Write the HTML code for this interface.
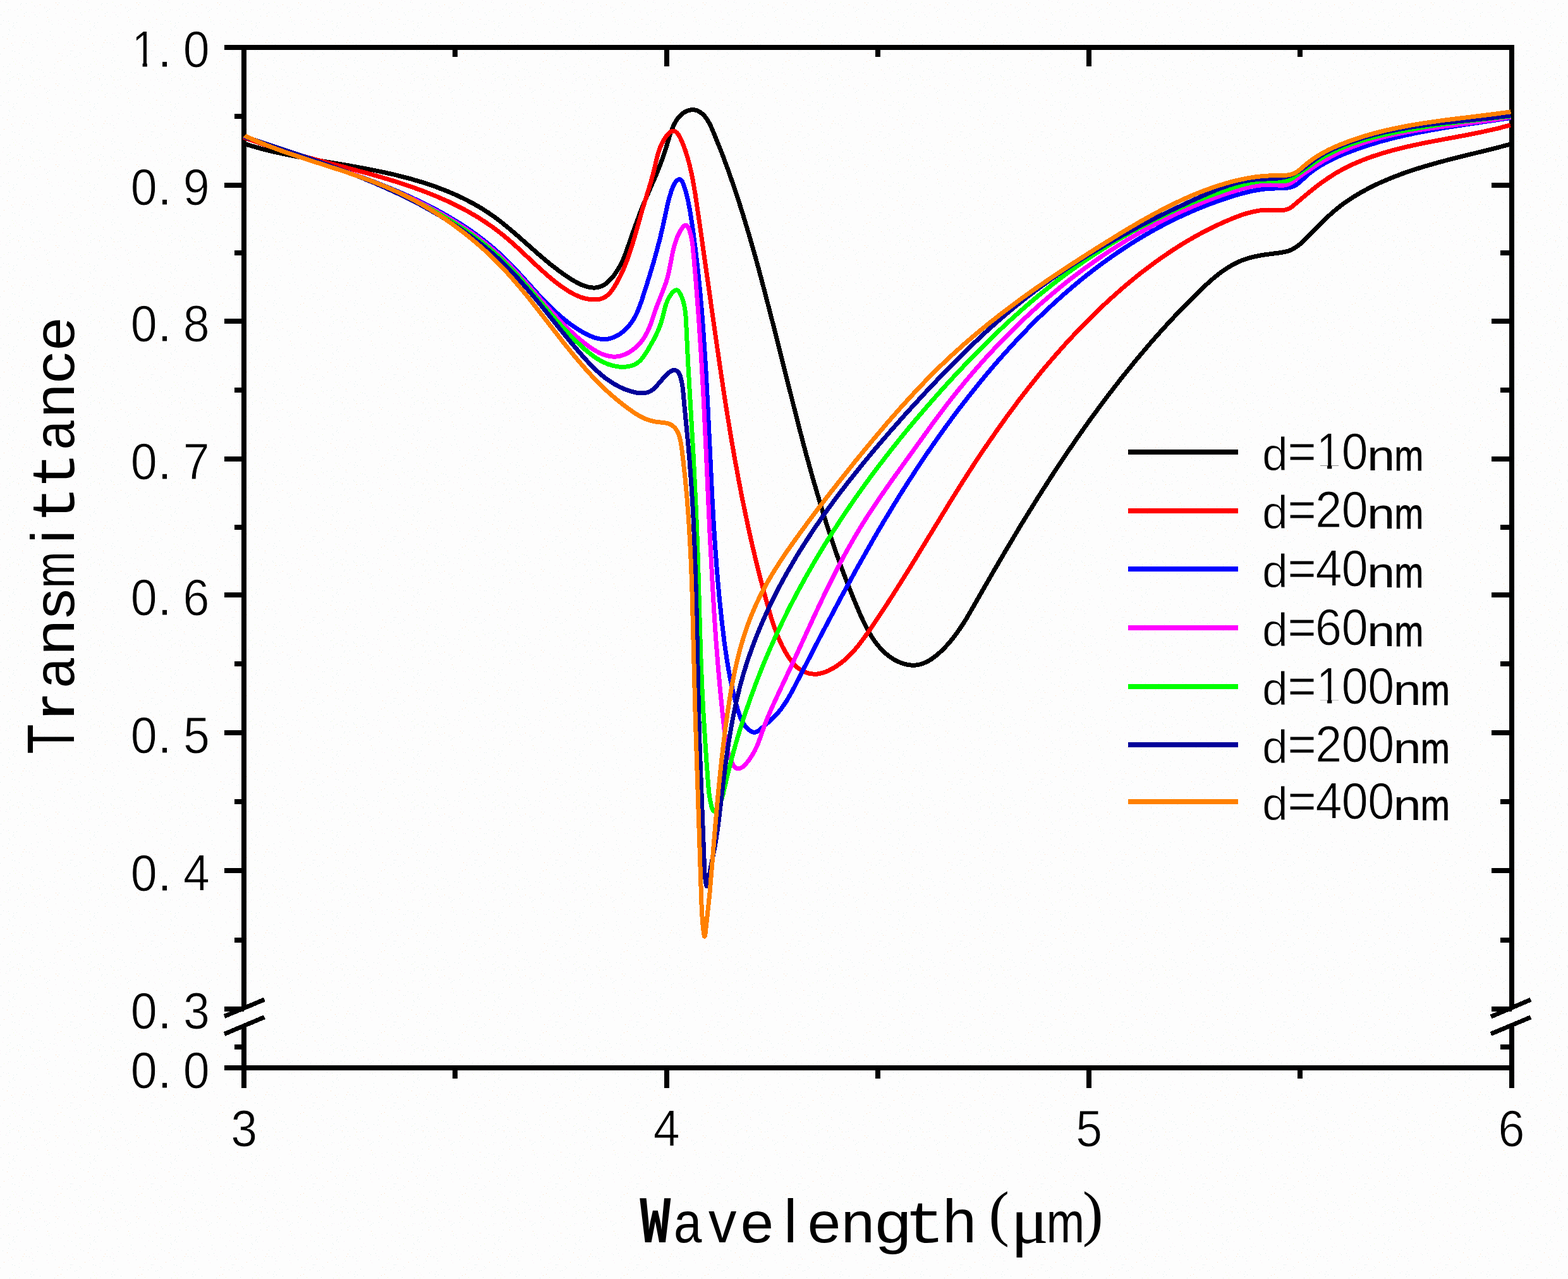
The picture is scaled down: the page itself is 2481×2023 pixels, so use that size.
<!DOCTYPE html>
<html lang="en"><head><meta charset="utf-8"><title>Transmittance vs Wavelength</title>
<style>
html,body{margin:0;padding:0;background:#fdfdfd;}
body{width:2481px;height:2023px;overflow:hidden;}
svg{display:block;}
.ax{stroke:#000;stroke-width:8;fill:none;stroke-linecap:butt;}
.cv{fill:none;stroke-width:7;stroke-linejoin:round;stroke-linecap:butt;}
.num{font-family:"Liberation Sans",sans-serif;font-size:80px;fill:#000;}
.mono{font-family:"Liberation Mono",monospace;}
.ttl{font-family:"Liberation Sans",sans-serif;font-size:91px;fill:#000;}
</style></head><body>
<svg xmlns="http://www.w3.org/2000/svg" width="2481" height="2023" viewBox="0 0 2481 2023">
<rect x="0" y="0" width="2481" height="2023" fill="#fdfdfd"/>
<defs><pattern id="dz" width="128" height="128" patternUnits="userSpaceOnUse" shape-rendering="crispEdges"><path fill="#deecec" d="M82 38h1v1h-1zM54 9h1v1h-1zM107 17h1v1h-1zM15 101h1v1h-1zM34 74h1v1h-1zM48 95h1v1h-1zM119 116h1v1h-1zM73 18h1v1h-1zM38 125h1v1h-1zM19 80h1v1h-1zM79 114h1v1h-1zM98 88h1v1h-1zM118 90h1v1h-1zM29 126h1v1h-1zM127 20h1v1h-1zM38 21h1v1h-1zM59 59h1v1h-1zM46 67h1v1h-1zM15 48h1v1h-1zM53 112h1v1h-1zM87 13h1v1h-1zM21 36h1v1h-1zM41 5h1v1h-1zM71 120h1v1h-1zM20 56h1v1h-1zM120 50h1v1h-1zM111 85h1v1h-1zM101 118h1v1h-1zM21 40h1v1h-1zM32 7h1v1h-1zM121 89h1v1h-1zM33 5h1v1h-1zM26 35h1v1h-1zM49 54h1v1h-1zM1 38h1v1h-1zM27 14h1v1h-1zM16 113h1v1h-1zM51 70h1v1h-1zM35 106h1v1h-1zM113 80h1v1h-1zM61 109h1v1h-1zM39 93h1v1h-1zM35 119h1v1h-1zM41 57h1v1h-1zM110 103h1v1h-1zM50 91h1v1h-1zM93 4h1v1h-1zM75 16h1v1h-1zM58 26h1v1h-1zM108 66h1v1h-1zM126 83h1v1h-1zM14 46h1v1h-1zM31 116h1v1h-1zM41 67h1v1h-1zM52 74h1v1h-1zM9 3h1v1h-1zM48 121h1v1h-1zM58 87h1v1h-1zM13 33h1v1h-1zM65 110h1v1h-1zM11 117h1v1h-1zM68 114h1v1h-1zM82 62h1v1h-1zM79 55h1v1h-1zM0 85h1v1h-1zM1 23h1v1h-1zM102 10h1v1h-1zM126 38h1v1h-1zM4 58h1v1h-1zM62 125h1v1h-1zM60 52h1v1h-1zM77 34h1v1h-1zM15 124h1v1h-1zM21 121h1v1h-1zM115 68h1v1h-1zM124 100h1v1h-1zM106 88h1v1h-1zM30 84h1v1h-1zM86 101h1v1h-1zM74 64h1v1h-1zM70 12h1v1h-1zM111 80h1v1h-1zM12 105h1v1h-1zM87 72h1v1h-1zM100 30h1v1h-1zM41 19h1v1h-1zM127 56h1v1h-1zM85 115h1v1h-1zM23 44h1v1h-1zM23 81h1v1h-1zM5 105h1v1h-1zM53 96h1v1h-1zM15 127h1v1h-1zM55 23h1v1h-1zM63 98h1v1h-1zM5 32h1v1h-1zM121 125h1v1h-1zM57 39h1v1h-1zM27 117h1v1h-1zM28 25h1v1h-1zM49 99h1v1h-1zM78 14h1v1h-1zM127 107h1v1h-1zM58 126h1v1h-1zM86 107h1v1h-1zM101 50h1v1h-1zM79 49h1v1h-1zM13 54h1v1h-1zM13 15h1v1h-1zM20 42h1v1h-1zM47 119h1v1h-1zM113 43h1v1h-1zM20 71h1v1h-1z"/><path fill="#fbebf5" d="M12 18h1v1h-1zM24 93h1v1h-1zM108 15h1v1h-1zM31 57h1v1h-1zM56 11h1v1h-1zM30 78h1v1h-1zM46 26h1v1h-1zM16 15h1v1h-1zM127 109h1v1h-1zM63 46h1v1h-1zM62 20h1v1h-1zM126 87h1v1h-1zM107 42h1v1h-1zM89 127h1v1h-1zM116 17h1v1h-1zM69 121h1v1h-1zM73 33h1v1h-1zM110 71h1v1h-1zM37 107h1v1h-1zM81 32h1v1h-1zM26 123h1v1h-1zM96 38h1v1h-1zM88 93h1v1h-1zM119 122h1v1h-1zM87 67h1v1h-1zM92 37h1v1h-1zM23 66h1v1h-1zM42 91h1v1h-1zM84 57h1v1h-1zM49 61h1v1h-1zM58 51h1v1h-1zM88 114h1v1h-1zM123 0h1v1h-1zM88 21h1v1h-1zM30 99h1v1h-1zM119 37h1v1h-1zM54 74h1v1h-1zM83 66h1v1h-1zM90 117h1v1h-1zM107 33h1v1h-1zM4 112h1v1h-1zM121 30h1v1h-1zM83 123h1v1h-1zM70 10h1v1h-1zM115 7h1v1h-1zM122 63h1v1h-1zM66 51h1v1h-1zM117 112h1v1h-1zM98 84h1v1h-1zM46 69h1v1h-1zM106 68h1v1h-1zM51 79h1v1h-1zM114 27h1v1h-1zM110 126h1v1h-1zM100 78h1v1h-1zM72 62h1v1h-1zM121 71h1v1h-1zM51 63h1v1h-1zM76 77h1v1h-1zM37 11h1v1h-1zM10 34h1v1h-1zM26 96h1v1h-1zM12 4h1v1h-1zM23 16h1v1h-1zM117 126h1v1h-1zM73 11h1v1h-1zM50 19h1v1h-1zM25 55h1v1h-1zM74 73h1v1h-1zM117 19h1v1h-1zM53 19h1v1h-1zM93 59h1v1h-1zM0 125h1v1h-1zM103 77h1v1h-1zM13 73h1v1h-1zM102 52h1v1h-1zM32 43h1v1h-1zM66 103h1v1h-1zM77 123h1v1h-1zM92 32h1v1h-1zM114 63h1v1h-1zM10 0h1v1h-1zM59 9h1v1h-1zM0 2h1v1h-1zM62 121h1v1h-1zM56 67h1v1h-1zM115 80h1v1h-1z"/><path fill="#f0fdd6" d="M101 100h1v1h-1zM102 71h1v1h-1zM13 116h1v1h-1zM6 18h1v1h-1zM51 122h1v1h-1zM33 15h1v1h-1zM77 31h1v1h-1zM24 101h1v1h-1zM21 97h1v1h-1zM109 35h1v1h-1zM19 122h1v1h-1zM33 71h1v1h-1zM50 3h1v1h-1zM19 92h1v1h-1zM95 109h1v1h-1zM124 12h1v1h-1zM58 108h1v1h-1zM126 47h1v1h-1zM124 106h1v1h-1zM14 37h1v1h-1z"/><path fill="#fddcc0" d="M91 97h1v1h-1zM38 25h1v1h-1zM29 124h1v1h-1zM6 76h1v1h-1zM91 7h1v1h-1zM18 68h1v1h-1zM11 61h1v1h-1zM88 4h1v1h-1zM35 103h1v1h-1zM93 84h1v1h-1zM119 30h1v1h-1zM36 67h1v1h-1zM38 63h1v1h-1zM114 110h1v1h-1zM117 71h1v1h-1zM63 7h1v1h-1zM52 126h1v1h-1zM75 27h1v1h-1zM96 95h1v1h-1z"/></pattern></defs>
<rect x="0" y="0" width="2481" height="2023" fill="url(#dz)"/>
<g class="ax" shape-rendering="crispEdges">
<path d="M354.5 74.6H2395.6"/>
<path d="M354.5 1688.5H2387.6"/>
<path d="M386.0 70.6V1593.0M386.0 1621.5V1720.5"/>
<path d="M2391.6 70.6V1593.0M2391.6 1621.5V1720.5"/>
<path d="M354.5 292.7H386.0M2360.3 292.7H2391.6M354.5 508.0H386.0M2360.3 508.0H2391.6M354.5 726.1H386.0M2360.3 726.1H2391.6M354.5 941.4H386.0M2360.3 941.4H2391.6M354.5 1159.3H386.0M2360.3 1159.3H2391.6M354.5 1377.4H386.0M2360.3 1377.4H2391.6M354.5 1595.7H386.0M2360.3 1595.7H2391.6M371 183.6H386.0M2374 183.6H2391.6M371 400.4H386.0M2374 400.4H2391.6M371 617.0H386.0M2374 617.0H2391.6M371 833.8H386.0M2374 833.8H2391.6M371 1050.3H386.0M2374 1050.3H2391.6M371 1268.3H386.0M2374 1268.3H2391.6M371 1486.6H386.0M2374 1486.6H2391.6M371 1655.5H386.0M2374 1655.5H2391.6M1054.5 74.6V105M1054.5 1688.5V1720.5M1723.1 74.6V105M1723.1 1688.5V1720.5M720.3 74.6V89.5M720.3 1688.5V1705.7M1388.8 74.6V89.5M1388.8 1688.5V1705.7M2057.3 74.6V89.5M2057.3 1688.5V1705.7"/>
</g>
<g stroke="#000" stroke-width="7" fill="none" shape-rendering="crispEdges">
<path d="M355 1607.5L418.4 1581M355 1635.5L418.4 1608.8M2359 1608.1L2422 1581.2M2359 1635.3L2422 1609"/>
</g>
<g class="cv" shape-rendering="crispEdges">
<path stroke="#000000" d="M387 227.1L387.4 227.6L394.6 229.8L414.7 235.5L433.6 240.2L452.6 244.3L468.9 247.6L488.1 251.1L551.7 261.9L576.7 266.4L601.5 271.3L623.4 276.1L646.6 282L668.2 288.3L688.3 295L708.1 302.6L717.8 306.7L727.4 311.1L736.9 315.7L746.3 320.6L755.4 325.7L764.4 331.1L773.1 336.7L780.4 341.8L793.4 351.5L807.2 362.8L820.7 374.4L851 401.2L868.3 415.9L876.7 422.5L885.3 429L892.8 434.4L900.6 439.6L907.2 443.7L912.6 446.8L918 449.5L923.4 451.8L928.8 453.5L932.8 454.4L938.2 455L942.1 455L946.1 454.4L948.6 453.8L951.2 452.9L953.7 451.8L958.6 448.7L963.3 444.7L968.9 438.7L972 434.8L974.9 430.7L980 422.4L984.3 414.1L987.4 407.2L990.6 398.9L1004.4 359.2L1014 333.4L1021.3 315.5L1038 277L1045.1 259.3L1051.8 240.6L1059.3 215.9L1061.9 208.2L1065.4 199.4L1068.9 192.6L1071.3 188.9L1073 186.6L1075.9 183.3L1078 181.3L1081.4 178.7L1083.7 177.2L1086.2 176L1088.8 174.9L1091.4 174.2L1094 173.8L1096.6 173.6L1099.3 173.9L1101.8 174.5L1104.4 175.4L1106.8 176.8L1109.2 178.4L1111.5 180.3L1114.7 183.6L1117.6 187.3L1120.2 191.2L1122.6 195.3L1124.6 199.5L1130.8 213.9L1142.3 242.4L1153.3 272.3L1164.1 303.5L1174.6 336.1L1182.3 361.6L1190.2 388.8L1198.7 419L1207.2 450.9L1223.1 512.1L1263.1 671.1L1274.8 715.7L1285.5 754.4L1298.4 798.6L1311.3 839.8L1318 859.7L1324.9 879.6L1331.5 898L1338.5 916.5L1346.3 936.4L1353.9 954.9L1361.2 972L1367 984.6L1371.8 994.2L1377 1003.4L1382.6 1012.2L1387.8 1019.3L1394.4 1027L1400.6 1033L1407.3 1038.4L1414.6 1043.2L1418.4 1045.3L1422.4 1047.1L1429.2 1049.6L1433.4 1050.8L1437.6 1051.6L1441.9 1052.1L1444.7 1052.2L1449 1052L1451.8 1051.6L1456 1050.8L1460.2 1049.5L1467 1046.5L1471 1044.3L1474.9 1041.8L1478.7 1039L1483.7 1035L1492.1 1027.3L1500.9 1017.9L1508.8 1008.2L1513.5 1002L1518.7 994.5L1523.7 987L1529.3 978.1L1536.8 965.2L1569.3 908.5L1591.9 869.8L1616.4 828.8L1640.8 789.4L1662.5 755.3L1683.9 722.8L1705.1 691.8L1725.8 662.5L1749 631.1L1772.8 600.2L1796.3 571L1820.6 542.3L1833.6 527.6L1845.7 514.2L1858 501L1870.5 487.9L1884.3 473.8L1897.2 461.1L1907 451.7L1916 443.6L1922.8 437.8L1929.8 432.3L1935.8 427.9L1942 423.8L1948.2 420L1954.7 416.6L1961.3 413.5L1966.7 411.2L1972.3 409.3L1978 407.6L1989.7 404.9L2001.7 402.8L2025.8 399.7L2033.1 398.4L2037.3 397.3L2041.4 395.9L2044 394.7L2047.8 392.7L2053.8 388.7L2060.7 383.1L2067.2 376.7L2087.3 355.8L2097 346.3L2109.2 335.3L2120.8 325.9L2127.9 320.6L2135.3 315.6L2142.7 310.8L2150.4 306.1L2166 297.5L2174 293.5L2183.5 289.1L2200.1 281.9L2218.4 274.9L2237 268.5L2257.4 262.2L2276.4 256.8L2297 251.4L2365 234.6L2390.2 228.1"/>
<path stroke="#ff0000" d="M387 217.5L387.4 218L391.5 219.5L413.7 227.3L432 233.3L452 239.3L488 249.4L580 273.7L604.6 280.7L626.2 287.3L650.4 295.2L671.5 302.9L690.8 310.6L709.8 319L720.5 324.1L729.8 328.8L740.2 334.4L749.2 339.6L759.4 345.7L768.1 351.4L776.7 357.3L785.2 363.4L798.2 373.7L810.9 384.5L823.3 395.9L851.2 422.1L865.9 435.3L872.8 441.1L879.8 446.7L887 452.1L893 456.3L899.2 460.3L905.6 464L912.2 467.3L917.7 469.6L923.5 471.5L929.5 472.9L935.6 473.8L940.1 474L944.5 473.8L947.4 473.4L950.2 472.8L952.9 471.9L955.5 470.8L958 469.4L960.3 467.8L962.5 465.9L966.5 461.6L971.1 455.4L975.9 447.2L981 437.5L986.3 426.3L990.9 415L995.6 402.2L999.8 389.3L1004.5 373.6L1015.8 333.7L1030.1 287L1034.4 271L1040.1 247L1042.3 239.4L1044.5 233.3L1048 225.6L1051.5 219.5L1055.4 213.8L1058.6 210.4L1061.6 208L1062.6 207.5L1064.6 207L1065.5 207L1067.3 207.3L1069 208.2L1070.7 209.6L1072.2 211.3L1073.7 213.4L1076.5 218.4L1080.3 227L1084.2 237.5L1087.6 248L1090.8 259.9L1093.6 271.7L1096 283.6L1100.1 307.2L1107.5 357.5L1132.4 532.7L1140.8 590.6L1148.9 644L1156.9 692.8L1162.3 723.9L1167.7 753.4L1173 781.3L1178.7 809.2L1184.3 835.6L1190.2 861.9L1196.4 888.1L1202.6 912.8L1209.1 937.5L1215.5 960.6L1220.1 976.4L1224.3 989.2L1228.4 1000.5L1232.9 1011.5L1238 1022.4L1243 1031.7L1247.8 1039.5L1253.1 1046.9L1258.1 1052.4L1261.3 1055.5L1263.6 1057.3L1267.3 1059.8L1269.9 1061.3L1273.9 1063.2L1276.7 1064.2L1281.1 1065.3L1284 1065.9L1290 1066.2L1293 1066.1L1297.5 1065.4L1301.9 1064.2L1306.3 1062.7L1310.6 1060.9L1314.7 1058.8L1318.8 1056.6L1323.9 1053.4L1332.4 1047.3L1336.9 1043.5L1341.3 1039.6L1349.6 1031.1L1357.3 1022L1367.3 1008.9L1379.4 991.7L1395.3 968L1412.5 941.5L1441.2 895.7L1506.9 788.1L1524.4 760.2L1541.5 733.7L1558.9 707.6L1576.8 681.7L1594.2 657.3L1612 633.3L1623.9 617.9L1635 603.8L1647.2 588.7L1658.7 575L1670.5 561.4L1682.4 547.9L1694.5 534.7L1705.8 522.7L1718.4 509.8L1730.1 498.1L1742 486.6L1754.1 475.3L1766.5 464.2L1779 453.3L1791.8 442.6L1803.5 433.1L1820.3 420.3L1837.4 407.9L1854.8 396.1L1871.3 385.6L1888.1 375.7L1905.1 366.4L1922.5 357.7L1938.7 350.3L1952.5 344.6L1965 339.9L1974.9 336.8L1985 334.4L1993.8 332.9L2002.9 332.2L2010.6 332.1L2023 332.7L2029 332.5L2032 332.2L2034.8 331.7L2037.5 330.8L2040.1 329.7L2042.6 328.2L2046.1 325.5L2065.8 308.8L2079.8 297.4L2091.8 288.4L2102.8 280.8L2114.1 273.6L2127.1 266.4L2140.4 259.9L2155.5 253.5L2170.9 247.7L2186.6 242.6L2204 237.6L2221.6 233.2L2238 229.5L2257.4 225.4L2321.5 213.4L2344.9 208.7L2369.2 203.3L2390 197.8"/>
<path stroke="#0000ff" d="M387 215.3L387.7 215.8L400 220.4L430.4 231.3L518.6 261.3L548.7 271.7L574.4 281L598.5 290.1L627.9 302.1L641.7 308.1L655.4 314.4L669 320.8L681 326.9L692.9 333.1L704.6 339.6L716.2 346.4L726.3 352.6L737.5 359.8L747.2 366.5L756.8 373.4L766.2 380.6L775.4 388L784.5 395.7L797.6 407.8L810.2 420.5L822.6 433.6L852 466.1L866.7 481.4L874.3 488.8L881 495L887.8 501L894.8 506.8L903.3 513.3L910.9 518.5L918.7 523.5L926.8 528.1L933.8 531.4L940.8 534.1L946.4 535.6L952.1 536.5L956.3 536.6L959.1 536.5L963.2 535.9L967.4 534.8L970.1 533.9L974 532.2L977.9 530.1L981.6 527.7L985.2 525L988.7 522.1L991.9 518.9L995 515.5L997.8 511.9L1000.5 508.2L1002.8 504.4L1005.7 499.2L1008.3 493.8L1010.6 488.2L1015.3 475.4L1025.5 443.4L1034.7 412.8L1039.9 393.9L1044.4 376.8L1048.7 358.5L1056.1 324.4L1059 313L1062.2 302.3L1064 297.2L1066.1 292.5L1068.4 288.5L1070.1 286.4L1072 284.8L1072.9 284.3L1074.8 283.7L1075.7 283.8L1076.6 284.1L1078.2 285.4L1079.6 287.4L1081.4 291.5L1083.5 297.6L1085.3 303.7L1088.7 317.2L1091.8 333.6L1096.3 363.2L1100.6 395.9L1104.6 430.1L1108 464.4L1110.4 491.3L1112.5 518.2L1116.6 579.5L1119.7 638L1126.8 784.9L1129.2 826.8L1131.6 864.3L1134.6 904.6L1138 943.4L1141.9 980.6L1146 1014.8L1148.3 1031.1L1150.8 1047.4L1153.3 1062.2L1155.8 1075.5L1158.7 1088.8L1161.8 1102L1165.2 1115.2L1168.7 1126.9L1171.2 1134.1L1173.7 1139.5L1176.6 1144.7L1179.2 1148.4L1183.3 1152.8L1186.8 1155.8L1189.3 1157.3L1190.5 1157.8L1193.1 1158.4L1194.4 1158.4L1196.8 1157.7L1200.5 1155.6L1216.1 1142.2L1222.9 1136L1228.2 1130.6L1234 1123.8L1239.3 1116.6L1244.3 1109.1L1249.6 1100.1L1255.4 1089.5L1298.1 1006.5L1330.4 945.5L1357 896.9L1382.8 851.4L1397.1 827L1411 804L1425.1 781.1L1438.7 759.7L1452.6 738.4L1466.7 717.3L1481.2 696.4L1495.1 676.9L1508.4 658.7L1521.1 641.9L1535 624.1L1548.2 607.6L1561.6 591.3L1574.3 576.3L1588.3 560.4L1601.5 545.8L1614.9 531.5L1628.5 517.4L1642.4 503.5L1655.4 491L1669.8 477.7L1683.2 465.6L1696.9 453.9L1710.7 442.4L1723.6 432.1L1735.5 423L1748.7 413.3L1760.8 404.6L1773.2 396.2L1785.6 388L1798.2 380.1L1811 372.4L1823.9 365L1837 357.9L1850.2 351L1863.5 344.5L1877.1 338.2L1889.4 332.8L1903.2 327.1L1915.8 322.2L1934.2 315.6L1952.8 309.6L1968.8 305.1L1982 302L1993.9 299.9L2004.3 298.6L2011.8 298.1L2028.4 297.8L2035.7 297.4L2041.3 296.4L2045.4 295.1L2048 294L2050.5 292.7L2054.2 290.1L2057.7 287.1L2068.1 277.4L2072.9 273.5L2079 268.9L2084 265.4L2090.4 261.4L2102.2 254.9L2110.2 250.9L2118.3 247.2L2127.9 243.1L2139 238.8L2148.8 235.2L2160.1 231.3L2181.5 224.7L2200.3 219.6L2219.3 215L2239.9 210.6L2260.7 206.6L2281.5 202.9L2303.8 199.3L2390.5 186.4"/>
<path stroke="#ff00ff" d="M387 215.6L387.7 216.1L416.5 226.2L498.5 254.1L532.8 266L565.7 278L595.4 289.5L612.2 296.4L628.9 303.6L644 310.4L659 317.5L673.8 324.9L687 331.8L700.1 339.1L712.9 346.6L724.3 353.7L735.4 360.9L746.4 368.5L756 375.4L766.5 383.5L775.7 391L784.7 398.7L793.4 406.6L806.2 419L820.6 434.1L833.6 448.6L865.5 485L882 503.1L890.6 511.9L898.2 519.5L906.2 526.9L913.1 533.1L920.3 539.2L927.7 545L934 549.6L940.4 553.7L946.9 557.4L952.2 559.8L957.5 561.8L962.9 563.2L966.9 563.9L971 564.1L975.1 564L977.8 563.7L980.5 563.2L984.5 562.1L988.5 560.6L992.5 558.8L996.4 556.6L1000.1 554.1L1003.8 551.3L1007.3 548.3L1010.6 545L1014.7 540.3L1017.5 536.6L1020 532.8L1024.5 524.7L1028.7 514.9L1031.3 507.7L1039.1 484.8L1050.3 456.4L1054.3 445.4L1056.4 438.3L1058.5 429.5L1063.5 403.4L1065.5 394.1L1068 385L1070.6 377.6L1073 371.8L1075.9 366.2L1078.3 362.1L1081 358.7L1082.7 357.2L1083.6 356.7L1085.2 356.3L1086.8 357L1088.2 358.6L1089.5 360.9L1090.7 363.7L1092.6 370L1094.4 377.8L1095.8 387.1L1098 409.9L1100.9 443.1L1105.7 506.3L1109.5 564.7L1113.2 630.4L1116.3 694.6L1123.3 848.8L1127.7 931.3L1130.3 974.8L1133.1 1015.2L1136.2 1054.1L1139.5 1091.4L1143.2 1128.5L1147 1162.5L1148.6 1174.3L1150.8 1185L1152.4 1191.3L1154.5 1197.8L1157.1 1204.3L1159.3 1208.7L1161.8 1212.3L1163.6 1214.1L1165.6 1215.3L1166.6 1215.7L1168.7 1215.9L1170.9 1215.4L1174.4 1213.5L1176.7 1211.7L1180.2 1208.2L1183.6 1204.1L1187.8 1198.2L1191.5 1192.3L1194.6 1186.6L1197.3 1180.9L1199.7 1175.4L1210.8 1144.5L1215.7 1132.3L1221.6 1118.8L1229.1 1102.4L1251.6 1054.5L1288.6 973.8L1306.5 936L1315.8 917.2L1325.3 898.6L1334.3 881.4L1343 865.7L1351.9 850.2L1360.3 836L1369.8 820.8L1379.6 805.7L1394.7 783.3L1411.9 758.7L1474.7 671.4L1488.9 652.3L1502.4 634.5L1515.4 618.1L1528.6 602L1544.2 583.7L1560.1 565.8L1576.5 548.2L1593.2 530.9L1610.3 514L1627.8 497.4L1645.7 481.3L1662.8 466.6L1677.8 454.1L1691.9 442.8L1707.4 431L1722 420.3L1737.9 409.1L1752.8 399L1767.9 389.3L1783.2 379.8L1798.7 370.7L1814.4 361.9L1830.2 353.5L1846.2 345.4L1862.4 337.6L1877.4 330.9L1893.9 323.8L1909.2 317.7L1930.2 309.9L1951.6 302.8L1967.4 298.1L1980.5 295.1L1990.9 293.4L2001.4 292.4L2012.1 292.3L2024.5 293.2L2029 293.3L2033.4 292.9L2037.5 291.9L2041.4 290.1L2045.2 287.7L2064.6 273.3L2080.9 262.4L2095 253.7L2109.4 245.9L2117.4 241.9L2125.6 238.2L2142.1 231.4L2159 225.5L2177.6 219.9L2192.1 216.1L2208.2 212.5L2224.5 209.2L2242.4 206.1L2275.4 201.2L2354.4 190.8L2373.3 188L2390.5 185"/>
<path stroke="#00ff00" d="M387 215.5L387.5 216L405.5 222.3L490.2 251.3L527.3 264.3L562.8 277.4L595.1 290.2L613.2 297.8L629.8 305.1L646.1 312.7L661 320L675.6 327.5L690 335.4L704.2 343.6L716.9 351.3L726.9 357.7L736.7 364.3L754.8 377.3L764.2 384.6L772.2 391.1L781.3 398.8L789.1 405.7L796.7 412.9L804.1 420.2L812.5 428.8L820.7 437.6L836.7 455.7L869.2 493.8L882.2 508.7L896.5 524.4L910.2 538.4L917.9 545.7L925.7 552.8L932.6 558.5L938.5 563L944.6 567.2L950.9 570.9L957.5 574.1L962.9 576.3L967.1 577.6L971.4 578.7L978.9 580L986.5 580.4L992.6 579.9L998.5 578.7L1001.3 577.8L1004 576.7L1006.5 575.3L1009 573.7L1011.3 571.8L1013.5 569.7L1015.5 567.5L1018.4 563.8L1023.7 555.9L1033.6 538.5L1037 532L1040.1 525.4L1043.5 517.4L1046 510.3L1047.7 504.4L1051.6 488.8L1053.9 481L1056.3 475L1058.4 470.7L1061 466.6L1062.9 464L1066 460.8L1068.1 459.4L1070.2 458.8L1071.1 458.8L1072.1 459.1L1072.9 459.7L1074.5 461.6L1076.5 465.1L1078.9 470.2L1080.3 474.2L1081.9 479.8L1083.1 485.5L1084.1 491.5L1084.8 497.5L1085.4 505.3L1088.9 578L1097.4 725.3L1101.5 809.2L1104.4 884.5L1107.7 1001.3L1109.1 1044.7L1110.8 1086.6L1113.1 1130L1117.4 1197.4L1120.6 1241L1121.7 1253.2L1123.6 1265.7L1125.8 1275.5L1126.7 1278.5L1127.8 1281L1129.1 1282.7L1129.8 1283.2L1130.5 1283.4L1131.2 1283.3L1132.9 1282.4L1135.3 1279.5L1136.9 1276.9L1138.3 1274L1140.8 1267.5L1142.4 1262.3L1144.6 1253.9L1152.2 1221.5L1158.1 1198.5L1164.4 1175.6L1171.3 1152.7L1179.5 1127.1L1188.4 1101.6L1197.8 1076.3L1208.3 1049.8L1218.3 1026.3L1228.8 1003.1L1239.7 980L1251.7 955.9L1263.6 933.3L1276.6 909.7L1290 886.3L1303.9 863.2L1319.1 839.1L1335.5 814L1352.4 789.2L1369.8 764.7L1387.7 740.6L1406.9 715.6L1426.5 690.9L1446.6 666.6L1468.1 641.5L1489.9 616.8L1512.1 592.5L1534.8 568.7L1555.7 547.4L1577 526.5L1597.7 507.2L1618.8 488.3L1635.8 473.7L1652 460.4L1668.4 447.5L1685.1 434.8L1702.1 422.5L1718.2 411.4L1735.7 399.8L1752.3 389.3L1770.4 378.4L1788.8 367.9L1807.4 357.9L1824.8 348.9L1843.8 339.6L1862.9 330.8L1882.2 322.4L1900.3 315.1L1924.1 306.1L1946.6 298.3L1963.6 293L1970.7 291.1L1977.9 289.4L1989.6 287.2L2000 286.2L2010.6 286L2024.5 286.9L2029.1 287L2033.5 286.6L2037.8 285.6L2041.8 283.9L2046.9 280.8L2072.6 262.3L2085 253.9L2095.3 247.7L2105.8 242L2112.6 238.7L2120.8 234.9L2136.1 228.8L2153.1 223L2170.3 218.1L2189.3 213.4L2211.3 208.7L2236.4 204L2263 199.5L2289.7 195.6L2318 191.9L2349.3 188.3L2390.5 183.8"/>
<path stroke="#00009a" d="M387 215.9L387.2 216.4L464.9 242.1L490.5 250.8L513.3 258.9L534.6 266.6L554.4 274.1L574.1 281.9L592.2 289.4L611.6 297.9L629.3 306L646.9 314.5L662.9 322.7L678.6 331.3L694.2 340.2L709.4 349.5L724.4 359.2L735.4 366.7L746.2 374.5L756.8 382.5L766.1 389.9L776.4 398.5L785.3 406.3L794 414.4L802.6 422.7L811 431.3L820.2 441.1L838.1 461.5L855.6 482.5L889 524L902.4 540.4L917.1 557.7L929.2 571.2L935.4 577.7L941.7 584L947.1 589L952.7 593.8L958.5 598.4L964.5 602.6L970.6 606.6L975.7 609.5L982.3 612.9L987.8 615.3L994.9 617.9L1000.7 619.7L1006.7 621L1012.7 621.8L1017.1 621.9L1021.4 621.4L1025.4 620.4L1028 619.3L1030.5 617.9L1034 615.3L1036.2 613.2L1039.5 609.8L1049.8 597.8L1053.4 593.8L1057.2 590.3L1060.9 587.5L1063.4 586.3L1064.6 585.8L1067 585.5L1068.2 585.6L1070.5 586.4L1071.6 587.1L1072.7 588L1074.4 590.4L1076.3 594.8L1078.4 602.7L1079.8 610.3L1080.7 617.7L1082.8 641L1088.1 694.9L1091 727.8L1093.9 766.7L1096.5 808.6L1098.9 859.5L1100.8 916.5L1102.3 973.4L1105.5 1121.9L1106.6 1163.9L1108.2 1208.8L1114.8 1378.1L1115.4 1385.9L1116.4 1394.4L1117.3 1399.4L1117.9 1401.5L1118.3 1401.8L1118.6 1401.5L1119 1400.8L1120.1 1396.5L1124.9 1369.7L1130.6 1341.7L1133.2 1326.9L1136.6 1303.3L1145.6 1227.7L1148.5 1205.3L1151.4 1184.4L1154.7 1163.5L1158.3 1142.7L1162.1 1123.4L1165.9 1105.8L1170.9 1085.4L1176.1 1066.7L1181.8 1048.2L1188.6 1028.4L1195.9 1008.9L1203.8 989.7L1212.2 970.6L1221.7 950.4L1233.2 927.8L1246.1 904.3L1259.7 881L1274 858.1L1289.7 834.3L1306 810.8L1323.8 786.4L1342.2 762.4L1362.9 736.4L1385.1 709.6L1408.8 682.1L1434.8 652.8L1463.2 621.9L1488.8 594.8L1513.8 569.3L1537.1 546.5L1557.6 527.2L1578.5 508.4L1598.8 491.1L1618.4 475.1L1638.4 459.7L1657.7 445.6L1678.7 431L1700.1 416.9L1723.2 402.5L1746.7 388.6L1771.8 374.5L1798.5 360.1L1826.8 345.6L1855.3 331.7L1888 316.4L1915.2 304.3L1930.3 298.2L1944.2 293.2L1956.9 289.4L1968.4 286.7L1978.6 284.9L1987.5 283.8L1996.6 283.3L2014.8 282.6L2023.8 281.9L2032.5 280.4L2039.4 278.5L2043.5 277L2047.4 275.2L2055.1 271L2062.5 266.1L2079.4 253.4L2086.9 248.1L2096 242.7L2105.3 237.9L2113.5 234.2L2121.8 230.6L2130.1 227.3L2139.9 223.7L2158.4 217.7L2177.1 212.5L2194.6 208.4L2212.2 204.8L2231.4 201.4L2250.8 198.5L2267.3 196.3L2286.8 194L2361.4 186.3L2390.5 182.8"/>
<path stroke="#ff8000" d="M387 214.2L387.6 214.8L392.9 217.3L410.6 225.1L425.8 231.2L442.6 237.5L473.9 248.3L535.8 268.2L560.2 276.4L585.8 285.6L608.2 294.4L620.6 299.8L632.8 305.4L644.9 311.4L658.1 318.3L669.8 324.9L681.4 331.7L692.7 338.8L705.2 347L717.4 355.6L729.3 364.5L741 373.7L753.7 384.2L764.9 394L775.8 404.2L786.5 414.7L798 426.5L806.1 435.4L815 445.5L833.4 467.4L850.3 488.7L892.1 542.4L904.3 557.6L914.9 570.3L927.6 584.9L939.7 598.1L951.2 609.7L963 620.9L975.3 631.6L988 641.7L1001.3 651.3L1006.3 654.6L1011.4 657.6L1016.7 660.4L1020.8 662.3L1025 663.9L1029.4 665.3L1037.1 667L1053 669L1055.9 669.6L1058.6 670.4L1062.2 672.1L1065.3 674.3L1068 676.9L1070.9 681L1072.8 684.5L1074.3 688.4L1075.5 692.4L1076.6 696.7L1078.4 707.2L1080.7 725.8L1084.1 756.7L1087.1 788.7L1089.5 820.5L1091.6 855.1L1093.5 893.9L1095 935.5L1100.2 1132.5L1109.9 1428.7L1110.8 1447.5L1112.2 1465L1113.6 1476.9L1114.2 1480.1L1114.7 1481.1L1114.9 1481.2L1115.3 1480.4L1115.7 1478.6L1116.5 1472.9L1123 1412.4L1132.5 1297.5L1135.7 1261.7L1138.9 1229L1141.9 1200.7L1145 1173.9L1148.4 1147L1151.5 1124.6L1155.2 1100.8L1158.9 1080.1L1162.7 1060.9L1167.1 1041.9L1172 1023.1L1177.1 1006L1182.9 989L1188.7 973.7L1195.7 957.3L1203.5 941.1L1212.6 923.9L1222.5 907L1233.8 889.2L1246.4 870.3L1261.3 849.4L1280 823.9L1304.3 791.7L1329 760.1L1355 727.5L1381.7 695.2L1404 668.8L1425.9 643.9L1446.2 621.7L1466.9 599.9L1486 580.8L1504.5 563.3L1523.3 546.3L1543.7 528.8L1565.6 510.8L1587.9 493.4L1611.7 475.5L1636 458.1L1666.8 436.9L1699.4 415.4L1737.4 391.1L1776 367.2L1802 351.8L1825.7 338.5L1848.4 326.7L1870 316.3L1882.3 310.8L1893.3 306.2L1904.4 301.8L1915.6 297.8L1926.9 293.9L1936.8 290.9L1948.3 287.6L1958.5 285.1L1974.5 281.7L1983.4 280.3L1990.8 279.3L1999.8 278.4L2007.3 278L2014.8 277.8L2026.9 277.8L2032.8 277.5L2040 276.6L2045.5 275.1L2048.1 274L2050.7 272.7L2054.4 270.2L2068.6 258.1L2073.5 254.4L2079.7 250L2089.9 243.6L2101.8 237.2L2109.9 233.4L2118.1 229.8L2136.2 222.8L2154.5 216.6L2174.6 210.7L2192 206.4L2211.1 202.2L2230.3 198.5L2251.2 195L2287 189.9L2361.4 180.8L2390.5 176.9"/>
</g>
<g stroke-width="8" fill="none" shape-rendering="crispEdges">
<path stroke="#000000" d="M1784.5 715.0H1959"/>
<path stroke="#ff0000" d="M1784.5 807.5H1959"/>
<path stroke="#0000ff" d="M1784.5 900.2H1959"/>
<path stroke="#ff00ff" d="M1784.5 992.9H1959"/>
<path stroke="#00ff00" d="M1784.5 1085.6H1959"/>
<path stroke="#00009a" d="M1784.5 1178.2H1959"/>
<path stroke="#ff8000" d="M1784.5 1268.4H1959"/>
</g>
<g stroke="#fdfdfd" stroke-width="1">
<text class="num" y="743.9"><tspan x="1996.9" font-size="75.0" textLength="40.9" lengthAdjust="spacingAndGlyphs">d</tspan><tspan x="2037.3" y="741.9" font-size="81.0" textLength="45.6" lengthAdjust="spacingAndGlyphs">=</tspan><tspan x="2083.2" font-size="81" textLength="38.7" lengthAdjust="spacingAndGlyphs">1</tspan><tspan x="2122.8" font-size="81.0" textLength="41.9" lengthAdjust="spacingAndGlyphs">0</tspan><tspan x="2163.1" y="743.9" stroke="none" font-size="68.0" textLength="44.2" lengthAdjust="spacingAndGlyphs">n</tspan><tspan x="2206.2" stroke="#000" stroke-width="0.8" font-size="68.0" textLength="46.2" lengthAdjust="spacingAndGlyphs">m</tspan></text>
<text class="num" y="836.4"><tspan x="1996.9" font-size="75.0" textLength="40.9" lengthAdjust="spacingAndGlyphs">d</tspan><tspan x="2037.3" y="834.4" font-size="81.0" textLength="45.6" lengthAdjust="spacingAndGlyphs">=</tspan><tspan x="2081.3" font-size="81.0" textLength="41.9" lengthAdjust="spacingAndGlyphs">2</tspan><tspan x="2122.8" font-size="81.0" textLength="41.9" lengthAdjust="spacingAndGlyphs">0</tspan><tspan x="2163.1" y="836.4" stroke="none" font-size="68.0" textLength="44.2" lengthAdjust="spacingAndGlyphs">n</tspan><tspan x="2206.2" stroke="#000" stroke-width="0.8" font-size="68.0" textLength="46.2" lengthAdjust="spacingAndGlyphs">m</tspan></text>
<text class="num" y="929.1"><tspan x="1996.9" font-size="75.0" textLength="40.9" lengthAdjust="spacingAndGlyphs">d</tspan><tspan x="2037.3" y="927.1" font-size="81.0" textLength="45.6" lengthAdjust="spacingAndGlyphs">=</tspan><tspan x="2081.5" font-size="81.0" textLength="41.9" lengthAdjust="spacingAndGlyphs">4</tspan><tspan x="2122.8" font-size="81.0" textLength="41.9" lengthAdjust="spacingAndGlyphs">0</tspan><tspan x="2163.1" y="929.1" stroke="none" font-size="68.0" textLength="44.2" lengthAdjust="spacingAndGlyphs">n</tspan><tspan x="2206.2" stroke="#000" stroke-width="0.8" font-size="68.0" textLength="46.2" lengthAdjust="spacingAndGlyphs">m</tspan></text>
<text class="num" y="1021.8"><tspan x="1996.9" font-size="75.0" textLength="40.9" lengthAdjust="spacingAndGlyphs">d</tspan><tspan x="2037.3" y="1019.8" font-size="81.0" textLength="45.6" lengthAdjust="spacingAndGlyphs">=</tspan><tspan x="2081.0" font-size="81.0" textLength="41.9" lengthAdjust="spacingAndGlyphs">6</tspan><tspan x="2122.8" font-size="81.0" textLength="41.9" lengthAdjust="spacingAndGlyphs">0</tspan><tspan x="2163.1" y="1021.8" stroke="none" font-size="68.0" textLength="44.2" lengthAdjust="spacingAndGlyphs">n</tspan><tspan x="2206.2" stroke="#000" stroke-width="0.8" font-size="68.0" textLength="46.2" lengthAdjust="spacingAndGlyphs">m</tspan></text>
<text class="num" y="1114.5"><tspan x="1996.9" font-size="75.0" textLength="40.9" lengthAdjust="spacingAndGlyphs">d</tspan><tspan x="2037.3" y="1112.5" font-size="81.0" textLength="45.6" lengthAdjust="spacingAndGlyphs">=</tspan><tspan x="2083.2" font-size="81" textLength="38.7" lengthAdjust="spacingAndGlyphs">1</tspan><tspan x="2122.8" font-size="81.0" textLength="41.9" lengthAdjust="spacingAndGlyphs">0</tspan><tspan x="2164.3" font-size="81.0" textLength="41.9" lengthAdjust="spacingAndGlyphs">0</tspan><tspan x="2204.6" y="1114.5" stroke="none" font-size="68.0" textLength="44.2" lengthAdjust="spacingAndGlyphs">n</tspan><tspan x="2247.7" stroke="#000" stroke-width="0.8" font-size="68.0" textLength="46.2" lengthAdjust="spacingAndGlyphs">m</tspan></text>
<text class="num" y="1207.1"><tspan x="1996.9" font-size="75.0" textLength="40.9" lengthAdjust="spacingAndGlyphs">d</tspan><tspan x="2037.3" y="1205.1" font-size="81.0" textLength="45.6" lengthAdjust="spacingAndGlyphs">=</tspan><tspan x="2081.3" font-size="81.0" textLength="41.9" lengthAdjust="spacingAndGlyphs">2</tspan><tspan x="2122.8" font-size="81.0" textLength="41.9" lengthAdjust="spacingAndGlyphs">0</tspan><tspan x="2164.3" font-size="81.0" textLength="41.9" lengthAdjust="spacingAndGlyphs">0</tspan><tspan x="2204.6" y="1207.1" stroke="none" font-size="68.0" textLength="44.2" lengthAdjust="spacingAndGlyphs">n</tspan><tspan x="2247.7" stroke="#000" stroke-width="0.8" font-size="68.0" textLength="46.2" lengthAdjust="spacingAndGlyphs">m</tspan></text>
<text class="num" y="1297.3"><tspan x="1996.9" font-size="75.0" textLength="40.9" lengthAdjust="spacingAndGlyphs">d</tspan><tspan x="2037.3" y="1295.3" font-size="81.0" textLength="45.6" lengthAdjust="spacingAndGlyphs">=</tspan><tspan x="2081.5" font-size="81.0" textLength="41.9" lengthAdjust="spacingAndGlyphs">4</tspan><tspan x="2122.8" font-size="81.0" textLength="41.9" lengthAdjust="spacingAndGlyphs">0</tspan><tspan x="2164.3" font-size="81.0" textLength="41.9" lengthAdjust="spacingAndGlyphs">0</tspan><tspan x="2204.6" y="1297.3" stroke="none" font-size="68.0" textLength="44.2" lengthAdjust="spacingAndGlyphs">n</tspan><tspan x="2247.7" stroke="#000" stroke-width="0.8" font-size="68.0" textLength="46.2" lengthAdjust="spacingAndGlyphs">m</tspan></text>
<text class="num" y="106.1"><tspan x="208.7" font-size="81" textLength="38.7" lengthAdjust="spacingAndGlyphs">1</tspan><tspan x="248.7" font-size="81.0" textLength="23.6" lengthAdjust="spacingAndGlyphs">.</tspan><tspan x="289.8" font-size="81.0" textLength="41.9" lengthAdjust="spacingAndGlyphs">0</tspan></text>
<text class="num" y="324.2"><tspan x="206.8" font-size="81.0" textLength="41.9" lengthAdjust="spacingAndGlyphs">0</tspan><tspan x="248.7" font-size="81.0" textLength="23.6" lengthAdjust="spacingAndGlyphs">.</tspan><tspan x="289.8" font-size="81.0" textLength="41.9" lengthAdjust="spacingAndGlyphs">9</tspan></text>
<text class="num" y="539.5"><tspan x="206.8" font-size="81.0" textLength="41.9" lengthAdjust="spacingAndGlyphs">0</tspan><tspan x="248.7" font-size="81.0" textLength="23.6" lengthAdjust="spacingAndGlyphs">.</tspan><tspan x="289.8" font-size="81.0" textLength="41.9" lengthAdjust="spacingAndGlyphs">8</tspan></text>
<text class="num" y="757.6"><tspan x="206.8" font-size="81.0" textLength="41.9" lengthAdjust="spacingAndGlyphs">0</tspan><tspan x="248.7" font-size="81.0" textLength="23.6" lengthAdjust="spacingAndGlyphs">.</tspan><tspan x="289.8" font-size="81.0" textLength="41.9" lengthAdjust="spacingAndGlyphs">7</tspan></text>
<text class="num" y="972.9"><tspan x="206.8" font-size="81.0" textLength="41.9" lengthAdjust="spacingAndGlyphs">0</tspan><tspan x="248.7" font-size="81.0" textLength="23.6" lengthAdjust="spacingAndGlyphs">.</tspan><tspan x="289.5" font-size="81.0" textLength="41.9" lengthAdjust="spacingAndGlyphs">6</tspan></text>
<text class="num" y="1190.8"><tspan x="206.8" font-size="81.0" textLength="41.9" lengthAdjust="spacingAndGlyphs">0</tspan><tspan x="248.7" font-size="81.0" textLength="23.6" lengthAdjust="spacingAndGlyphs">.</tspan><tspan x="289.9" font-size="81.0" textLength="41.9" lengthAdjust="spacingAndGlyphs">5</tspan></text>
<text class="num" y="1408.9"><tspan x="206.8" font-size="81.0" textLength="41.9" lengthAdjust="spacingAndGlyphs">0</tspan><tspan x="248.7" font-size="81.0" textLength="23.6" lengthAdjust="spacingAndGlyphs">.</tspan><tspan x="290.0" font-size="81.0" textLength="41.9" lengthAdjust="spacingAndGlyphs">4</tspan></text>
<text class="num" y="1627.2"><tspan x="206.8" font-size="81.0" textLength="41.9" lengthAdjust="spacingAndGlyphs">0</tspan><tspan x="248.7" font-size="81.0" textLength="23.6" lengthAdjust="spacingAndGlyphs">.</tspan><tspan x="290.0" font-size="81.0" textLength="41.9" lengthAdjust="spacingAndGlyphs">3</tspan></text>
<text class="num" y="1721.0"><tspan x="206.8" font-size="81.0" textLength="41.9" lengthAdjust="spacingAndGlyphs">0</tspan><tspan x="248.7" font-size="81.0" textLength="23.6" lengthAdjust="spacingAndGlyphs">.</tspan><tspan x="289.8" font-size="81.0" textLength="41.9" lengthAdjust="spacingAndGlyphs">0</tspan></text>
<text class="num" y="1813.3"><tspan x="365.3" font-size="81.0" textLength="41.9" lengthAdjust="spacingAndGlyphs">3</tspan></text>
<text class="num" y="1813.3"><tspan x="1033.8" font-size="81.0" textLength="41.9" lengthAdjust="spacingAndGlyphs">4</tspan></text>
<text class="num" y="1813.3"><tspan x="1702.2" font-size="81.0" textLength="41.9" lengthAdjust="spacingAndGlyphs">5</tspan></text>
<text class="num" y="1813.3"><tspan x="2370.4" font-size="81.0" textLength="41.9" lengthAdjust="spacingAndGlyphs">6</tspan></text>
</g>
<g fill="#fdfdfd"><rect x="2087.3" y="737.0" width="12.8" height="8.1"/><rect x="2107.3" y="737.0" width="12.6" height="8.1"/><rect x="2087.3" y="1107.6" width="12.8" height="8.1"/><rect x="2107.3" y="1107.6" width="12.6" height="8.1"/><rect x="212.8" y="99.2" width="12.8" height="8.1"/><rect x="232.8" y="99.2" width="12.6" height="8.1"/></g>
<text class="ttl" y="1964.6"><tspan x="1012.2" y="1964.6" font-family="Liberation Mono" font-weight="bold" font-size="106.5" textLength="49.2" lengthAdjust="spacingAndGlyphs">W</tspan><tspan x="1066.1" y="1964.6" font-size="91.0" textLength="44.4" lengthAdjust="spacingAndGlyphs">a</tspan><tspan x="1120.9" y="1964.6" font-size="92.0" textLength="44.4" lengthAdjust="spacingAndGlyphs">v</tspan><tspan x="1171.7" y="1964.6" font-size="91.0" textLength="52.3" lengthAdjust="spacingAndGlyphs">e</tspan><tspan x="1240.3" y="1964.6" font-size="97.0" textLength="21.0" lengthAdjust="spacingAndGlyphs">l</tspan><tspan x="1277.8" y="1964.6" font-size="91.0" textLength="52.4" lengthAdjust="spacingAndGlyphs">e</tspan><tspan x="1331.0" y="1964.6" font-size="91.0" textLength="52.8" lengthAdjust="spacingAndGlyphs">n</tspan><tspan x="1384.8" y="1964.6" font-size="91.0" textLength="57.0" lengthAdjust="spacingAndGlyphs">g</tspan><tspan x="1430.9" y="1964.6" font-family="Liberation Mono" font-size="93.5" textLength="64.2" lengthAdjust="spacingAndGlyphs">t</tspan><tspan x="1491.5" y="1964.6" font-size="97.0" textLength="53.3" lengthAdjust="spacingAndGlyphs">h</tspan><tspan x="1564.6" y="1952.0" font-family="Liberation Serif" font-size="97.4">(</tspan><tspan x="1599.5" y="1966.3" font-family="Liberation Serif" font-size="104.8" textLength="59.6" lengthAdjust="spacingAndGlyphs">μ</tspan><tspan x="1655.8" y="1964.6" font-size="90.0" textLength="60.3" lengthAdjust="spacingAndGlyphs">m</tspan><tspan x="1712.8" y="1952.0" font-family="Liberation Serif" font-size="97.4" textLength="32.9" lengthAdjust="spacingAndGlyphs">)</tspan></text>
<g transform="translate(116.8 1200.0) rotate(-90)"><text class="ttl" y="0"><tspan x="7.4" y="0.0" font-size="106.4" textLength="47.1" lengthAdjust="spacingAndGlyphs">T</tspan><tspan x="61.0" y="0.0" font-size="92.0" textLength="39.4" lengthAdjust="spacingAndGlyphs">r</tspan><tspan x="112.0" y="0.0" font-size="91.0" textLength="47.1" lengthAdjust="spacingAndGlyphs">a</tspan><tspan x="163.8" y="0.0" font-size="91.0" textLength="55.8" lengthAdjust="spacingAndGlyphs">n</tspan><tspan x="221.9" y="0.0" font-size="91.0" textLength="46.3" lengthAdjust="spacingAndGlyphs">s</tspan><tspan x="269.7" y="0.0" font-size="91.0" textLength="57.9" lengthAdjust="spacingAndGlyphs">m</tspan><tspan x="340.8" y="0.0" font-size="96.7" textLength="20.7" lengthAdjust="spacingAndGlyphs">i</tspan><tspan x="373.4" y="0.0" font-family="Liberation Mono" font-size="97.0" textLength="57.1" lengthAdjust="spacingAndGlyphs">t</tspan><tspan x="427.3" y="0.0" font-family="Liberation Mono" font-size="97.0" textLength="57.1" lengthAdjust="spacingAndGlyphs">t</tspan><tspan x="488.7" y="0.0" font-size="91.0" textLength="46.0" lengthAdjust="spacingAndGlyphs">a</tspan><tspan x="539.8" y="0.0" font-size="91.0" textLength="53.0" lengthAdjust="spacingAndGlyphs">n</tspan><tspan x="593.8" y="0.0" font-size="91.0" textLength="49.3" lengthAdjust="spacingAndGlyphs">c</tspan><tspan x="645.9" y="0.0" font-size="91.0" textLength="51.7" lengthAdjust="spacingAndGlyphs">e</tspan></text></g>
</svg>
</body></html>
